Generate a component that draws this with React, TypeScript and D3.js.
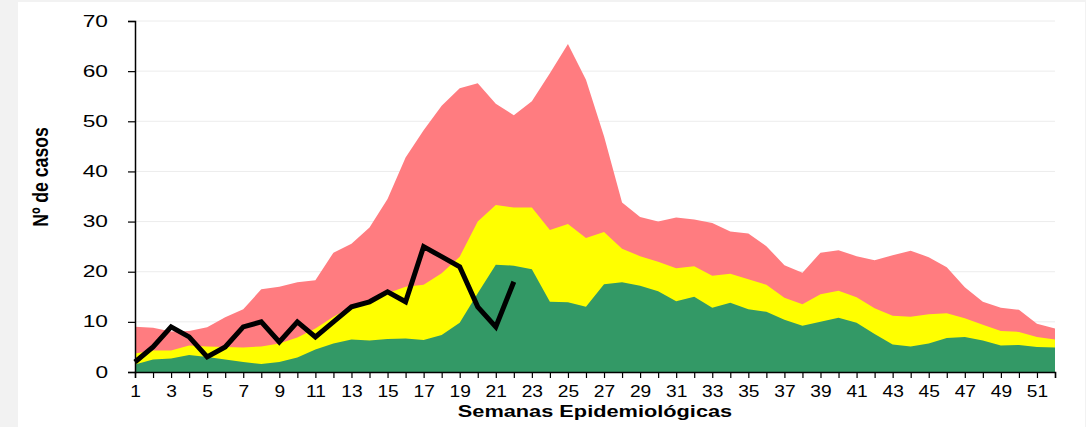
import React, { useEffect, useRef } from "react";
import * as d3 from "d3";

// semanas epidemiológicas 1..52
const weeks = d3.range(1, 53);

// canal endémico: zona de epidemia (rojo), alerta (amarillo), seguridad (verde)
const epidemia = [
  9.0, 8.8, 8.1, 8.2, 8.9, 10.9, 12.5, 16.5, 17.0, 17.9, 18.3, 23.8, 25.6, 28.8, 34.5, 42.8, 48.2, 53.1,
  56.6, 57.6, 53.5, 51.2, 54.0, 59.6, 65.4, 58.3, 47.0, 33.8, 30.9, 30.0, 30.8, 30.4, 29.7, 28.0, 27.6,
  25.1, 21.3, 19.8, 23.8, 24.3, 23.1, 22.3, 23.3, 24.2, 22.9, 20.9, 16.9, 14.0, 12.8, 12.4, 9.6, 8.7,
];
const alerta = [
  3.7, 4.3, 4.3, 5.3, 5.1, 5.0, 4.9, 5.1, 5.7, 6.9, 8.7, 11.0, 13.0, 14.0, 15.7, 17.0, 17.4, 19.7, 23.0,
  30.0, 33.3, 32.8, 32.8, 28.3, 29.5, 26.7, 27.9, 24.6, 23.1, 22.0, 20.7, 21.1, 19.2, 19.6, 18.5, 17.4,
  14.8, 13.5, 15.5, 16.2, 14.9, 12.7, 11.2, 11.0, 11.5, 11.7, 10.7, 9.4, 8.2, 8.0, 7.0, 6.5,
];
const seguridad = [
  1.5, 2.5, 2.7, 3.4, 3.0, 2.5, 2.0, 1.6, 2.0, 2.9, 4.5, 5.7, 6.5, 6.3, 6.6, 6.7, 6.4, 7.4, 9.8, 15.7,
  21.4, 21.2, 20.5, 14.0, 13.9, 13.0, 17.5, 17.9, 17.2, 16.1, 14.1, 15.0, 12.8, 13.8, 12.5, 12.0, 10.4,
  9.2, 10.0, 10.8, 9.8, 7.6, 5.5, 5.1, 5.7, 6.8, 7.0, 6.3, 5.3, 5.4, 5.0, 4.9,
];
// casos del año actual (semanas 1..22)
const casos = [2, 5, 9, 7, 3, 5, 9, 10, 6, 10, 7, 10, 13, 14, 16, 14, 25, 23, 21, 13, 9, 18];

const yTicks = [0, 10, 20, 30, 40, 50, 60, 70];
const xLabels = weeks.filter((w) => w % 2 === 1);

const FONT = "Liberation Sans, Arial, sans-serif";

const App = () => {
  const ref = useRef<SVGSVGElement>(null);

  useEffect(() => {
    const width = 1086;
    const height = 427;
    const margin = { top: 21, right: 31, bottom: 55, left: 135 };
    const innerW = width - margin.left - margin.right;
    const innerH = height - margin.top - margin.bottom;

    const svg = d3.select(ref.current);
    svg.selectAll("*").remove();

    // fondo
    svg.append("rect").attr("width", width).attr("height", height).attr("fill", "#f2f2f2");
    svg.append("rect").attr("x", 18).attr("y", 2).attr("width", width - 19).attr("height", height - 2).attr("fill", "#fff");

    const g = svg.append("g").attr("transform", `translate(${margin.left},${margin.top})`);

    const x = d3.scaleLinear().domain([1, 52]).range([0, innerW]);
    const y = d3.scaleLinear().domain([0, 70]).range([innerH, 0]);

    // grid
    g.selectAll("line.grid")
      .data(yTicks.slice(1))
      .enter()
      .append("line")
      .attr("x1", 0)
      .attr("x2", innerW)
      .attr("y1", (d) => y(d))
      .attr("y2", (d) => y(d))
      .attr("stroke", "#ececec")
      .attr("stroke-width", 1);

    const series = [
      { values: epidemia, color: "#ff7c80" },
      { values: alerta, color: "#ffff00" },
      { values: seguridad, color: "#339966" },
    ];
    series.forEach((s) => {
      const area = d3
        .area<number>()
        .x((_, i) => x(weeks[i]))
        .y0(y(0))
        .y1((d) => y(d));
      g.append("path").datum(s.values).attr("fill", s.color).attr("d", area);
    });

    const line = d3
      .line<number>()
      .x((_, i) => x(weeks[i]))
      .y((d) => y(d));
    g.append("path")
      .datum(casos)
      .attr("fill", "none")
      .attr("stroke", "#000")
      .attr("stroke-width", 5)
      .attr("stroke-linejoin", "miter")
      .attr("d", line);

    // eje y (texto estirado en horizontal como en el original)
    const ySx = 1.42;
    const yAxis = g.append("g").call(d3.axisLeft(y).tickValues(yTicks).tickSize(7).tickPadding(20));
    yAxis.select(".domain").attr("stroke", "#000").attr("stroke-width", 1.5);
    yAxis.selectAll(".tick line").attr("stroke", "#000").attr("stroke-width", 1.2);
    yAxis
      .selectAll(".tick text")
      .attr("x", -27 / ySx)
      .attr("transform", `scale(${ySx},1)`)
      .attr("font-family", FONT)
      .attr("font-size", 16)
      .attr("fill", "#000");

    // eje x
    const xSx = 1.2;
    const xAxis = g
      .append("g")
      .attr("transform", `translate(0,${innerH})`)
      .call(
        d3
          .axisBottom(x)
          .tickValues(weeks)
          .tickSize(6)
          .tickPadding(8)
          .tickFormat((d) => (xLabels.includes(d as number) ? String(d) : ""))
      );
    xAxis.select(".domain").attr("stroke", "#000").attr("stroke-width", 1.5);
    xAxis.selectAll(".tick line").attr("stroke", "#000").attr("stroke-width", 1.2);
    xAxis
      .selectAll(".tick text")
      .attr("transform", `scale(${xSx},1)`)
      .attr("font-family", FONT)
      .attr("font-size", 16)
      .attr("fill", "#000");

    svg
      .append("text")
      .attr("transform", `translate(${margin.left + innerW / 2},417) scale(1.28,1)`)
      .attr("text-anchor", "middle")
      .attr("font-family", FONT)
      .attr("font-weight", "bold")
      .attr("font-size", 17)
      .text("Semanas Epidemiológicas");

    svg
      .append("text")
      .attr("transform", `translate(48,177) rotate(-90) scale(1.04,1.3)`)
      .attr("text-anchor", "middle")
      .attr("font-family", FONT)
      .attr("font-weight", "bold")
      .attr("font-size", 17)
      .text("Nº de casos");
  }, []);

  return (
    <div style={{ position: "fixed", top: 0, left: 0 }}>
      <svg ref={ref} width={1086} height={427} style={{ display: "block" }} />
    </div>
  );
};

export default App;
